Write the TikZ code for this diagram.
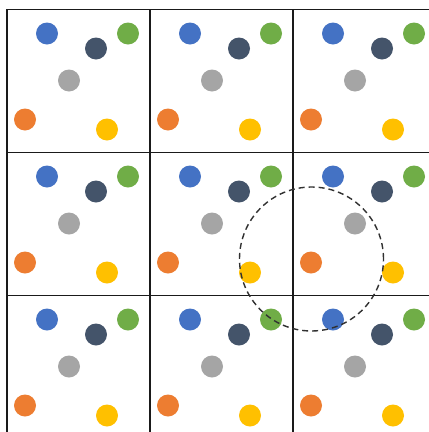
\documentclass[tikz,border=0pt]{standalone}
\usetikzlibrary{positioning}
\definecolor{ink}{HTML}{1A1A1A}
\definecolor{dotblue}{HTML}{4472C4}
\definecolor{dotnavy}{HTML}{44546A}
\definecolor{dotgreen}{HTML}{70AD47}
\definecolor{dotgray}{HTML}{A5A5A5}
\definecolor{dotorange}{HTML}{ED7D31}
\definecolor{dotyellow}{HTML}{FFC000}
\tikzset{
  cellbox/.style = {draw=ink, line width=1.4pt, fill=white},
  dotnode/.style = {circle, inner sep=0pt, minimum size=22pt, draw=none},
  zone/.style    = {circle, draw=ink!90, line width=1.4pt, dash pattern=on 6pt off 4pt,
                    inner sep=0pt, minimum size=144pt},
}
\begin{document}
\begin{tikzpicture}[x=1pt, y=-1pt]
\clip (0,0) rectangle (429,432);
\fill[white] (0,0) rectangle (429,432);

% 3x3 tiles, each with the same six dots
\foreach \i in {0,1,2}{
  \foreach \j in {0,1,2}{
    \draw[cellbox] ({7+143*\i},{9.5+143*\j}) rectangle ++(143,143);
    \foreach \dx/\dy/\col in {40/24/dotblue, 89/39/dotnavy, 121/24/dotgreen,
                              62/71/dotgray, 18/110/dotorange, 100/120/dotyellow}{
      \node[dotnode, fill=\col] (\col-\i-\j) at ({7+143*\i+\dx},{9.5+143*\j+\dy}) {};
    }
  }
}

% neighbourhood round the middle-right orange dot
\node[zone] (reach) at (311.5,259) {};
\end{tikzpicture}
\end{document}
